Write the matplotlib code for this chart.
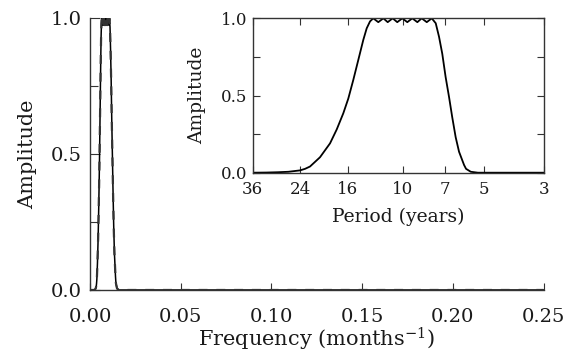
import numpy as np
import matplotlib
matplotlib.use("Agg")
import matplotlib.pyplot as plt
from matplotlib.ticker import FixedLocator, NullFormatter

plt.rcParams['font.family'] = ['DejaVu Serif']
plt.rcParams['mathtext.fontset'] = 'dejavuserif'

# Filter response (period in years -> amplitude)
period_years = [36, 32, 29, 26.5, 24, 23, 22.05, 20.25, 18.59, 17.56, 16.60, 15.91,
                15.25, 14.61, 14.00, 13.60, 13.22,
                12.86, 12.32, 11.80, 11.37, 10.90, 10.48, 10.04, 9.62, 9.22, 8.83,
                8.51, 8.15, 7.81,
                7.55, 7.34, 7.14, 6.94, 6.74, 6.56, 6.37, 6.19, 5.93, 5.83, 5.60,
                5.27, 4.5, 3.0]
amplitude = [0.0, 0.001, 0.003, 0.006, 0.015, 0.025, 0.04, 0.10, 0.19, 0.28, 0.385, 0.48,
             0.60, 0.73, 0.86, 0.935, 0.98,
             1.0, 0.975, 1.0, 0.975, 1.0, 0.975, 1.0, 0.975, 1.0, 0.975,
             1.0, 0.975, 1.0,
             0.968, 0.88, 0.77, 0.62, 0.49, 0.36, 0.23, 0.136, 0.05, 0.025, 0.006,
             0.0, 0.0, 0.0]

main_xticks = [0.00, 0.05, 0.10, 0.15, 0.20, 0.25]
main_xticklabels = ['0.00', '0.05', '0.10', '0.15', '0.20', '0.25']
yticks = [0.0, 0.5, 1.0]
yticklabels = ['0.0', '0.5', '1.0']
yminor = [0.25, 0.75]
inset_periods = [36, 24, 16, 10, 7, 5, 3]
inset_labels = ['36', '24', '16', '10', '7', '5', '3']

W, H = 575, 356
fig = plt.figure(figsize=(W / 100, H / 100), dpi=100)
TXT = '#1a1a1a'

# ---------- main axes ----------
ax = fig.add_axes([90 / W, 1 - 290 / H, (543.5 - 90) / W, (290 - 18.3) / H])
freq = [0.0] + [1.0 / (12.0 * p) for p in period_years] + [0.25]
amp_main = [0.0] + amplitude + [0.0]
ax.plot(freq, amp_main, color='black', lw=1.1)
ax.plot(freq, amp_main, color='#333333', lw=1.6, ls=(0, (4, 4)))
ax.set_xlim(0, 0.25)
ax.set_ylim(0, 1.0)
for s in ['top', 'right']:
    ax.spines[s].set_visible(False)
for s in ['left', 'bottom']:
    ax.spines[s].set_color('#333333')
    ax.spines[s].set_linewidth(1.0)
ax.set_xticks(main_xticks)
ax.set_xticklabels(main_xticklabels)
ax.set_yticks(yticks)
ax.set_yticklabels(yticklabels)
ax.yaxis.set_minor_locator(FixedLocator(yminor))
ax.yaxis.set_minor_formatter(NullFormatter())
ax.tick_params(axis='x', direction='in', length=5, width=0.8, pad=13, labelsize=14,
               colors='#333333', labelcolor=TXT)
ax.tick_params(axis='y', which='major', direction='in', length=7, width=0.8, pad=6,
               labelsize=14, colors='#333333', labelcolor=TXT)
ax.tick_params(axis='y', which='minor', direction='in', length=6, width=0.8, colors='#333333')
ax.set_xlabel('Frequency (months$^{-1}$)', fontsize=15, labelpad=0, color=TXT)
ax.set_ylabel('Amplitude', fontsize=15, labelpad=10, color=TXT)

# ---------- inset axes ----------
ins = fig.add_axes([252.5 / W, 1 - 172.7 / H, (544 - 252.5) / W, (172.7 - 18.3) / H])
ins.plot(period_years, amplitude, color='black', lw=1.3)
ins.set_xscale('log')
ins.set_xlim(36, 3)
ins.set_ylim(0, 1.0)
ins.xaxis.set_major_locator(FixedLocator(inset_periods))
ins.xaxis.set_minor_locator(FixedLocator([]))
ins.set_xticklabels(inset_labels)
ins.set_yticks(yticks)
ins.set_yticklabels(yticklabels)
ins.yaxis.set_minor_locator(FixedLocator(yminor))
ins.yaxis.set_minor_formatter(NullFormatter())
for s in ins.spines.values():
    s.set_color('#333333')
    s.set_linewidth(1.0)
ins.tick_params(axis='both', which='both', direction='in', top=True, right=True,
                length=5, width=0.8, labelsize=12, colors='#333333', labelcolor=TXT)
ins.tick_params(axis='x', pad=6)
ins.tick_params(axis='y', pad=4)
ins.set_xlabel('Period (years)', fontsize=13.5, labelpad=7, color=TXT)
ins.set_ylabel('Amplitude', fontsize=13.5, labelpad=10, color=TXT)

fig.savefig('out.png', dpi=100)
